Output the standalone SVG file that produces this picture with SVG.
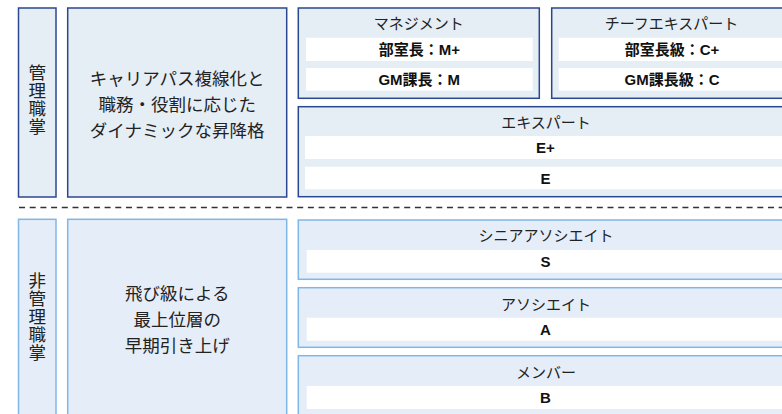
<svg xmlns="http://www.w3.org/2000/svg" width="782" height="414" viewBox="0 0 782 414">
<style>
.up{fill:#e5edf5;stroke:#2b4790;stroke-width:1.5}
.lo{fill:#e5edf8;stroke:#7fb7e6;stroke-width:1.5}
.row{fill:#ffffff}
.t{font-family:"Noto Sans CJK JP","Noto Sans",sans-serif;fill:#222;text-anchor:middle}
.ttl{font-size:15px}
.big{font-size:17.5px}
.vert{font-family:"Noto Sans CJK JP","Noto Sans",sans-serif;fill:#222;font-size:17.5px;writing-mode:vertical-rl;text-anchor:start;letter-spacing:0.5px}
.lab{font-family:"Liberation Sans","Noto Sans CJK JP",sans-serif;font-weight:bold;font-size:15px;fill:#111;text-anchor:middle}
</style>
<rect width="782" height="414" fill="#ffffff"/>
<g id="conn">
<line x1="19" y1="207.5" x2="782" y2="207.5" stroke="#333" stroke-width="1.3" stroke-dasharray="6 4.7"/>
</g>
<g id="kanri-label">
<rect class="up" x="18.5" y="8" width="37.5" height="189"/>
<text class="vert" x="37.3" y="64">管理職掌</text>
</g>
<g id="kanri-desc">
<rect class="up" x="67.7" y="8" width="219" height="189"/>
<text class="t big"><tspan x="177.2" y="85">キャリアパス複線化と</tspan><tspan x="177.2" y="111">職務・役割に応じた</tspan><tspan x="177.2" y="137">ダイナミックな昇降格</tspan></text>
</g>
<g id="management">
<rect class="up" x="298.3" y="8" width="241" height="90.3"/>
<text class="t ttl" x="418.8" y="28.5">マネジメント</text>
<rect class="row" x="306" y="37.7" width="226.7" height="23.3"/>
<text class="lab" x="419.3" y="55">部室長：M+</text>
<rect class="row" x="306" y="68" width="226.7" height="22.7"/>
<text class="lab" x="419.3" y="85">GM課長：M</text>
</g>
<g id="chief-expert">
<rect class="up" x="551.7" y="8" width="241" height="90.3"/>
<text class="t ttl" x="671.5" y="28.5">チーフエキスパート</text>
<rect class="row" x="558.7" y="37.7" width="226.7" height="23.3"/>
<text class="lab" x="672" y="55">部室長級：C+</text>
<rect class="row" x="558.7" y="68" width="226.7" height="22.7"/>
<text class="lab" x="672" y="85">GM課長級：C</text>
</g>
<g id="expert">
<rect class="up" x="298.3" y="106.7" width="494.4" height="90"/>
<text class="t ttl" x="546" y="128">エキスパート</text>
<rect class="row" x="305" y="136" width="481" height="23"/>
<text class="lab" x="545.5" y="153.2">E+</text>
<rect class="row" x="305" y="166.7" width="481" height="22.6"/>
<text class="lab" x="545.5" y="183.5">E</text>
</g>
<g id="hikanri-label">
<rect class="lo" x="18.5" y="219.3" width="37.5" height="210"/>
<text class="vert" x="37.3" y="272">非管理職掌</text>
</g>
<g id="hikanri-desc">
<rect class="lo" x="67.7" y="219.3" width="219" height="210"/>
<text class="t big"><tspan x="177.2" y="300">飛び級による</tspan><tspan x="177.2" y="326">最上位層の</tspan><tspan x="177.2" y="352">早期引き上げ</tspan></text>
</g>
<g id="senior-associate">
<rect class="lo" x="298.3" y="220" width="494.4" height="59.3"/>
<text class="t ttl" x="546" y="241">シニアアソシエイト</text>
<rect class="row" x="306.7" y="250" width="480" height="22.7"/>
<text class="lab" x="545.5" y="266.8">S</text>
</g>
<g id="associate">
<rect class="lo" x="298.3" y="287.7" width="494.4" height="59.6"/>
<text class="t ttl" x="546" y="309.5">アソシエイト</text>
<rect class="row" x="306.7" y="317.7" width="480" height="23"/>
<text class="lab" x="545.5" y="334.6">A</text>
</g>
<g id="member">
<rect class="lo" x="298.3" y="355.7" width="494.4" height="80"/>
<text class="t ttl" x="546" y="377.5">メンバー</text>
<rect class="row" x="306.7" y="386" width="480" height="23"/>
<text class="lab" x="545.5" y="402.8">B</text>
</g>
</svg>
